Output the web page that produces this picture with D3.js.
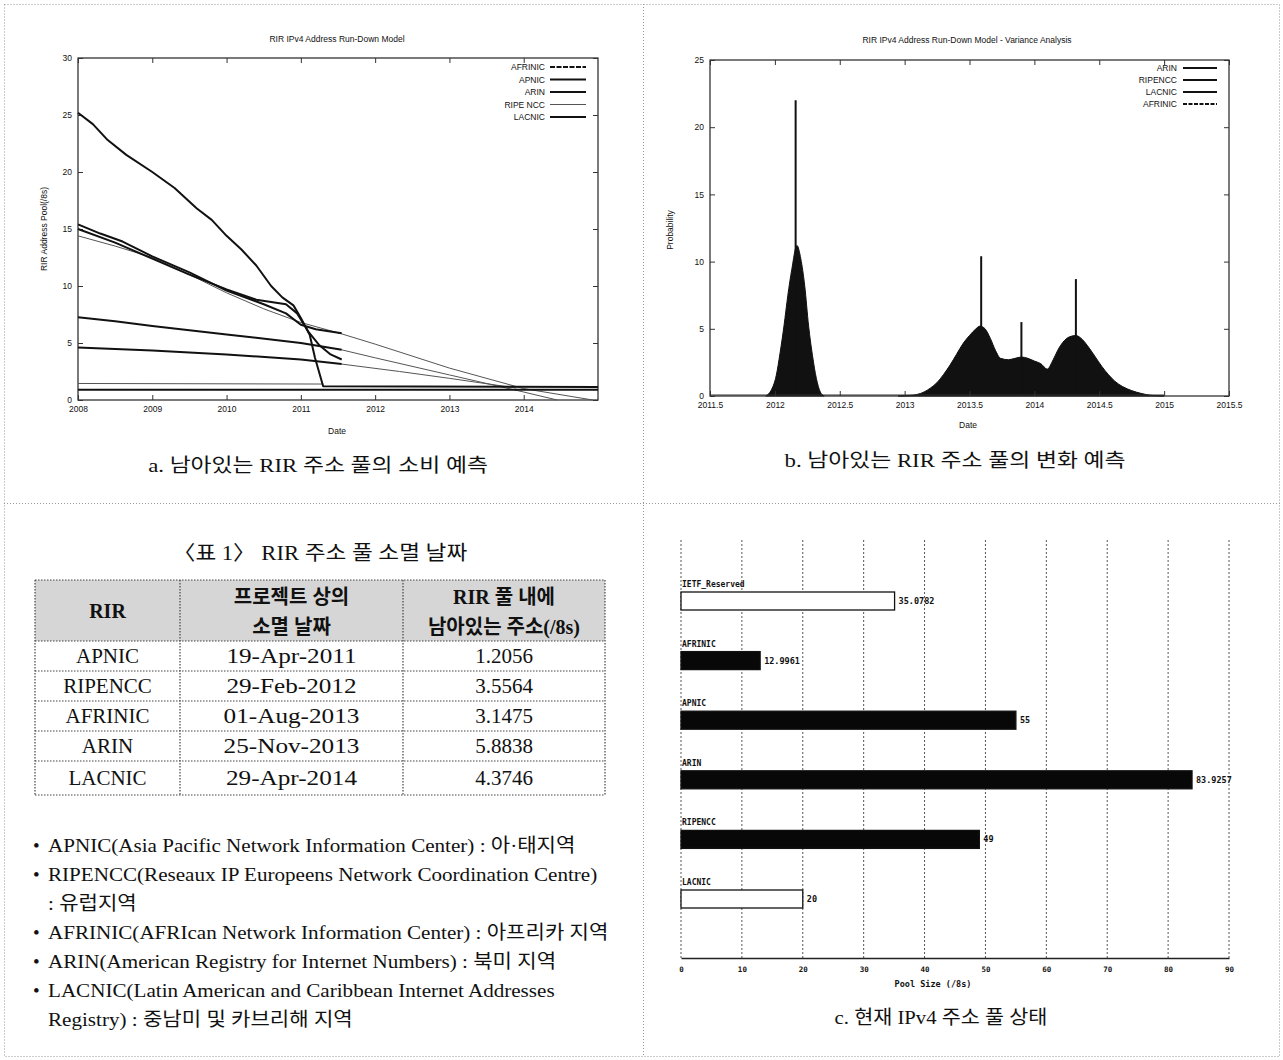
<!DOCTYPE html>
<html>
<head>
<meta charset="utf-8">
<script src="https://cdnjs.cloudflare.com/ajax/libs/d3/7.8.5/d3.min.js"></script>
<style>
body { margin: 0; background: #fff; }
svg text { font-family: "Liberation Sans", Arial, sans-serif; fill: #111; }
.serif { font-family: "Liberation Serif", "Noto Sans CJK KR", serif !important; }
.mono { font-family: "DejaVu Sans Mono", "Liberation Mono", monospace !important; font-weight: bold; }
</style>
</head>
<body>
<svg id="page" width="1283" height="1060"></svg>
<script>
// panel a - run-down model, pool in /8s per registry
var aYears = [2008, 2009, 2010, 2011, 2012, 2013, 2014];
var aPoolTicks = [0, 5, 10, 15, 20, 25, 30];
var apnicPool = [[2008,25.2],[2008.2,24.2],[2008.4,22.8],[2008.65,21.5],[2009,20.0],[2009.3,18.6],[2009.6,16.8],[2009.8,15.8],[2010,14.4],[2010.2,13.2],[2010.4,11.8],[2010.6,10.0],[2010.75,9.0],[2010.9,8.3],[2011,7.2],[2011.12,5.7],[2011.19,3.7],[2011.3,1.2],[2015,1.15]];
var arinPool = [[2008,15.4],[2008.3,14.6],[2008.6,13.9],[2009,12.6],[2009.5,11.2],[2010,9.6],[2010.5,8.4],[2010.8,7.6],[2011,6.6],[2011.2,6.2],[2011.55,5.85]];
var ripePool = [[2008,15.0],[2008.5,13.8],[2009,12.4],[2009.5,11.0],[2010,9.7],[2010.4,8.8],[2010.8,8.4],[2010.95,7.6],[2011.1,6.0],[2011.25,4.8],[2011.4,4.0],[2011.55,3.55]];
var lacnicPool = [[2008,7.25],[2008.5,6.9],[2009,6.5],[2010,5.75],[2011,5.0],[2011.55,4.4]];
var afrinicPool = [[2008,4.6],[2009,4.35],[2010,4.0],[2011,3.55],[2011.55,3.15]];
var reserveLevel = [[2008,0.9],[2015,0.9]];
var apnicFloor = [[2008,1.45],[2011.3,1.4]];
// the thin projected lines
var trendProjection = [[2008,14.4],[2008.5,13.5],[2009,12.5],[2009.5,11.0],[2010,9.4],[2010.5,8.0],[2011,6.8],[2011.55,5.8],[2012,4.9],[2013,2.8],[2014,1.0],[2014.93,0]];
var lacnicProjection = [[2011.55,4.4],[2012,3.7],[2013,2.2],[2014,0.7],[2014.45,0]];
var afrinicProjection = [[2011.55,3.15],[2012.33,2.5],[2013,1.9],[2013.9,1.05]];
var aLegend = ["AFRINIC", "APNIC", "ARIN", "RIPE NCC", "LACNIC"];

// panel b - variance analysis
var bDateTicks = [2011.5, 2012, 2012.5, 2013, 2013.5, 2014, 2014.5, 2015, 2015.5];
var bProbTicks = [0, 5, 10, 15, 20, 25];
var ripeDensity = [[2011.93,0],[2011.97,0.4],[2012.01,1.5],[2012.04,3.2],[2012.07,5.2],[2012.1,7.5],[2012.13,9.4],[2012.17,11.2],[2012.2,10.2],[2012.23,8.2],[2012.26,5.2],[2012.29,3.0],[2012.32,1.3],[2012.35,0.3],[2012.38,0]];
var laterDensity = [[2012.95,0],[2013.05,0.05],[2013.15,0.3],[2013.2,0.6],[2013.25,1.0],[2013.3,1.6],[2013.35,2.3],[2013.4,3.1],[2013.45,3.9],[2013.5,4.5],[2013.55,5.0],[2013.58,5.2],[2013.62,5.0],[2013.66,4.3],[2013.7,3.4],[2013.74,2.8],[2013.8,2.7],[2013.85,2.8],[2013.9,2.9],[2013.95,2.8],[2014.0,2.6],[2014.05,2.4],[2014.1,2.0],[2014.14,2.6],[2014.18,3.4],[2014.22,4.0],[2014.27,4.4],[2014.32,4.5],[2014.37,4.2],[2014.42,3.6],[2014.47,2.9],[2014.52,2.2],[2014.57,1.6],[2014.62,1.1],[2014.68,0.7],[2014.75,0.4],[2014.82,0.2],[2014.9,0.05],[2015.0,0]];
var spikes = [[2012.16,22],[2013.59,10.4],[2013.9,5.5],[2014.32,8.7]];
var bLegend = ["ARIN", "RIPENCC", "LACNIC", "AFRINIC"];

// panel c - current pool sizes
var poolNames = ["IETF_Reserved", "AFRINIC", "APNIC", "ARIN", "RIPENCC", "LACNIC"];
var poolSizes = [35.0782, 12.9961, 55, 83.9257, 49, 20];
var poolLabels = ["35.0782", "12.9961", "55", "83.9257", "49", "20"];
var hollowBars = ["IETF_Reserved", "LACNIC"];
var cTicks = [0, 10, 20, 30, 40, 50, 60, 70, 80, 90];

// table 1
var tableHead = [["RIR"], ["프로젝트 상의", "소멸 날짜"], ["RIR 풀 내에", "남아있는 주소(/8s)"]];
var rirNames = ["APNIC", "RIPENCC", "AFRINIC", "ARIN", "LACNIC"];
var exhaustDates = ["19-Apr-2011", "29-Feb-2012", "01-Aug-2013", "25-Nov-2013", "29-Apr-2014"];
var remainingPools = ["1.2056", "3.5564", "3.1475", "5.8838", "4.3746"];
var bulletLines = [
    ["•", "APNIC(Asia Pacific Network Information Center) : 아·태지역"],
    ["•", "RIPENCC(Reseaux IP Europeens Network Coordination Centre)"],
    ["", ": 유럽지역"],
    ["•", "AFRINIC(AFRIcan Network Information Center) : 아프리카 지역"],
    ["•", "ARIN(American Registry for Internet Numbers) : 북미 지역"],
    ["•", "LACNIC(Latin American and Caribbean Internet Addresses"],
    ["", "Registry) : 중남미 및 카브리해 지역"]
];

var svg = d3.select("#page");
svg.append("rect").attr("width", 1283).attr("height", 1060).attr("fill", "#fff");

// the scanned paper uses a wide korean serif, so stretch our text a bit
function stretch(sel, k) {
    sel.each(function () {
        var w = this.getComputedTextLength();
        if (w > 0) d3.select(this).attr("textLength", w * k).attr("lengthAdjust", "spacingAndGlyphs");
    });
}

// dotted frame around the four panels
function frame() {
    var f = svg.append("g").attr("stroke", "#999").attr("stroke-dasharray", "1,2").attr("fill", "none");
    f.append("rect").attr("x", 4.5).attr("y", 4.5).attr("width", 1275).attr("height", 1052);
    f.append("line").attr("x1", 643.5).attr("x2", 643.5).attr("y1", 4).attr("y2", 1057);
    f.append("line").attr("x1", 4).attr("x2", 1280).attr("y1", 503.5).attr("y2", 503.5);
}

// gnuplot style box with inward ticks on every side
function gnuBox(g, x, y, xTicks, yTicks, xFmt) {
    var x0 = x.range()[0], x1 = x.range()[1], y0 = y.range()[0], y1 = y.range()[1];
    g.append("rect").attr("x", x0).attr("y", y1).attr("width", x1 - x0).attr("height", y0 - y1)
        .attr("fill", "none").attr("stroke", "#222").attr("stroke-width", 1.2);
    var bottom = d3.axisBottom(x).tickValues(xTicks).tickFormat(xFmt).tickSize(-5).tickPadding(6);
    var top = d3.axisTop(x).tickValues(xTicks).tickFormat("").tickSize(-5);
    var left = d3.axisLeft(y).tickValues(yTicks).tickSize(-5).tickPadding(6);
    var right = d3.axisRight(y).tickValues(yTicks).tickFormat("").tickSize(-5);
    [[bottom, 0, y0], [top, 0, y1], [left, x0, 0], [right, x1, 0]].forEach(function (a) {
        var ax = g.append("g").attr("transform", "translate(" + a[1] + "," + a[2] + ")").call(a[0]);
        ax.select(".domain").remove();
        ax.selectAll("line").attr("stroke", "#333");
        ax.selectAll("text").attr("font-size", 8.5).attr("font-family", "Liberation Sans, Arial").attr("fill", "#111");
    });
}

function runDown() {
    var g = svg.append("g");
    var x = d3.scaleLinear().domain([2008, 2015]).range([78, 598]);
    var y = d3.scaleLinear().domain([0, 30]).range([400, 58]);
    gnuBox(g, x, y, aYears, aPoolTicks, d3.format("d"));

    var line = d3.line().x(function (d) { return x(d[0]); }).y(function (d) { return y(d[1]); });
    var thin = [trendProjection, lacnicProjection, afrinicProjection, apnicFloor];
    thin.forEach(function (s) {
        g.append("path").attr("d", line(s)).attr("fill", "none").attr("stroke", "#555").attr("stroke-width", 1);
    });
    var thick = [reserveLevel, afrinicPool, lacnicPool, ripePool, arinPool, apnicPool];
    thick.forEach(function (s) {
        g.append("path").attr("d", line(s)).attr("fill", "none").attr("stroke", "#111").attr("stroke-width", 2)
            .attr("stroke-linejoin", "round");
    });

    g.append("text").attr("x", 337).attr("y", 42).attr("text-anchor", "middle").attr("font-size", 8.5).text("RIR IPv4 Address Run-Down Model");
    g.append("text").attr("x", 337).attr("y", 434).attr("text-anchor", "middle").attr("font-size", 8.5).text("Date");
    g.append("text").attr("transform", "translate(47,229) rotate(-90)").attr("text-anchor", "middle").attr("font-size", 8.5).text("RIR Address Pool(/8s)");

    var leg = g.selectAll(".aleg").data(aLegend).enter().append("g")
        .attr("transform", function (d, i) { return "translate(0," + (67 + i * 12.5) + ")"; });
    leg.append("text").attr("x", 545).attr("y", 3).attr("text-anchor", "end").attr("font-size", 8.5).text(function (d) { return d; });
    leg.append("line").attr("x1", 550).attr("x2", 586)
        .attr("stroke", function (d) { return d == "RIPE NCC" ? "#555" : "#111"; })
        .attr("stroke-width", function (d) { return d == "RIPE NCC" ? 1 : 2; })
        .attr("stroke-dasharray", function (d) { return d == "AFRINIC" ? "5,1.5" : null; });

    var cap = g.append("text").attr("class", "serif").attr("x", 318).attr("y", 472).attr("text-anchor", "middle")
        .attr("font-size", 19).text("a. 남아있는 RIR 주소 풀의 소비 예측");
    stretch(cap, 1.2);
}

function variance() {
    var g = svg.append("g");
    var x = d3.scaleLinear().domain([2011.5, 2015.5]).range([710, 1229]);
    var y = d3.scaleLinear().domain([0, 25]).range([396, 60]);

    var area = d3.area().x(function (d) { return x(d[0]); }).y0(y(0)).y1(function (d) { return y(d[1]); }).curve(d3.curveMonotoneX);
    [ripeDensity, laterDensity].forEach(function (s) {
        g.append("path").attr("d", area(s)).attr("fill", "#111").attr("stroke", "#111").attr("stroke-width", 1);
    });
    g.selectAll(".spike").data(spikes).enter().append("line")
        .attr("x1", function (d) { return x(d[0]); }).attr("x2", function (d) { return x(d[0]); })
        .attr("y1", y(0)).attr("y2", function (d) { return y(d[1]); })
        .attr("stroke", "#111").attr("stroke-width", 2);
    g.append("line").attr("x1", x(2011.5)).attr("x2", x(2015)).attr("y1", y(0) - 1).attr("y2", y(0) - 1).attr("stroke", "#333");

    gnuBox(g, x, y, bDateTicks, bProbTicks, function (d) { return d; });

    g.append("text").attr("x", 967).attr("y", 43).attr("text-anchor", "middle").attr("font-size", 8.5).text("RIR IPv4 Address Run-Down Model - Variance Analysis");
    g.append("text").attr("x", 968).attr("y", 428).attr("text-anchor", "middle").attr("font-size", 8.5).text("Date");
    g.append("text").attr("transform", "translate(673,230) rotate(-90)").attr("text-anchor", "middle").attr("font-size", 8.5).text("Probability");

    var leg = g.selectAll(".bleg").data(bLegend).enter().append("g")
        .attr("transform", function (d, i) { return "translate(0," + (68 + i * 12) + ")"; });
    leg.append("text").attr("x", 1177).attr("y", 3).attr("text-anchor", "end").attr("font-size", 8.5).text(function (d) { return d; });
    leg.append("line").attr("x1", 1183).attr("x2", 1217).attr("stroke", "#111").attr("stroke-width", 2)
        .attr("stroke-dasharray", function (d) { return d == "AFRINIC" ? "4,1.5" : null; });

    var cap = g.append("text").attr("class", "serif").attr("x", 955).attr("y", 467).attr("text-anchor", "middle")
        .attr("font-size", 19).text("b. 남아있는 RIR 주소 풀의 변화 예측");
    stretch(cap, 1.2);
}

function poolBars() {
    var g = svg.append("g");
    var x = d3.scaleLinear().domain([0, 90]).range([681, 1229]);
    var y = d3.scalePoint().domain(poolNames).range([592, 890]);
    var barH = 18;

    g.selectAll(".grid").data(cTicks).enter().append("line")
        .attr("x1", function (d) { return x(d); }).attr("x2", function (d) { return x(d); })
        .attr("y1", 540).attr("y2", 958).attr("stroke", "#555").attr("stroke-dasharray", "2,2");

    var ax = g.append("g").attr("transform", "translate(0,958)")
        .call(d3.axisBottom(x).tickValues(cTicks).tickSize(0).tickPadding(9));
    ax.select(".domain").attr("stroke", "#222").attr("stroke-width", 1.5);
    ax.selectAll("text").attr("class", "mono").attr("font-size", 7.5);

    g.append("text").attr("class", "mono").attr("x", 933).attr("y", 987).attr("text-anchor", "middle")
        .attr("font-size", 8.5).text("Pool Size (/8s)");

    g.selectAll(".bar").data(poolNames).enter().append("rect")
        .attr("x", x(0)).attr("y", function (d) { return y(d); })
        .attr("width", function (d, i) { return x(poolSizes[i]) - x(0); }).attr("height", barH)
        .attr("fill", function (d) { return hollowBars.indexOf(d) >= 0 ? "#fff" : "#080808"; })
        .attr("stroke", "#111").attr("stroke-width", 1.3);
    g.selectAll(".bname").data(poolNames).enter().append("text").attr("class", "mono")
        .attr("x", x(0) + 1).attr("y", function (d) { return y(d) - 5; }).attr("font-size", 8)
        .text(function (d) { return d; });
    g.selectAll(".bval").data(poolNames).enter().append("text").attr("class", "mono")
        .attr("x", function (d, i) { return x(poolSizes[i]) + 4; }).attr("y", function (d) { return y(d) + barH / 2 + 3; })
        .attr("font-size", 8.5).text(function (d, i) { return poolLabels[i]; });

    var cap = g.append("text").attr("class", "serif").attr("x", 941).attr("y", 1024).attr("text-anchor", "middle")
        .attr("font-size", 19).text("c. 현재 IPv4 주소 풀 상태");
    stretch(cap, 1.09);
}

function table1() {
    var g = svg.append("g");
    var cols = [35, 180, 403, 605];
    var rowEdges = [580, 641, 671, 701, 731, 761, 795];
    var mid = function (i) { return (cols[i] + cols[i + 1]) / 2; };

    var title = g.append("text").attr("class", "serif").attr("x", 320).attr("y", 560).attr("text-anchor", "middle")
        .attr("font-size", 20).text("〈표 1〉 RIR 주소 풀 소멸 날짜");
    stretch(title, 1.13);

    g.append("rect").attr("x", cols[0]).attr("y", rowEdges[0]).attr("width", cols[3] - cols[0])
        .attr("height", rowEdges[1] - rowEdges[0]).attr("fill", "#d6d6d6");

    var border = g.append("g").attr("stroke", "#444").attr("stroke-dasharray", "1.5,1.5").attr("stroke-width", 1.2);
    rowEdges.forEach(function (r) {
        border.append("line").attr("x1", cols[0]).attr("x2", cols[3]).attr("y1", r).attr("y2", r);
    });
    cols.forEach(function (c) {
        border.append("line").attr("x1", c).attr("x2", c).attr("y1", rowEdges[0]).attr("y2", rowEdges[6]);
    });

    tableHead.forEach(function (lines, i) {
        lines.forEach(function (t, j) {
            g.append("text").attr("class", "serif").attr("x", mid(i))
                .attr("y", lines.length == 1 ? 618 : 604 + j * 30).attr("text-anchor", "middle")
                .attr("font-size", 20).attr("font-weight", "bold").text(t);
        });
    });

    [rirNames, exhaustDates, remainingPools].forEach(function (col, i) {
        var t = g.selectAll(".c" + i).data(col).enter().append("text").attr("class", "serif")
            .attr("x", mid(i)).attr("y", function (d, r) { return (rowEdges[r + 1] + rowEdges[r + 2]) / 2 + 7; })
            .attr("text-anchor", "middle").attr("font-size", 21).text(function (d) { return d; });
        if (i == 1) stretch(t, 1.2);
    });

    var b = g.selectAll(".bul").data(bulletLines).enter().append("g")
        .attr("transform", function (d, i) { return "translate(0," + (852 + i * 29) + ")"; });
    b.append("text").attr("class", "serif").attr("x", 33).attr("font-size", 19).text(function (d) { return d[0]; });
    var lines = b.append("text").attr("class", "serif").attr("x", 48).attr("font-size", 19).text(function (d) { return d[1]; });
    stretch(lines, 1.11);
}

frame();
runDown();
variance();
table1();
poolBars();
</script>
</body>
</html>
